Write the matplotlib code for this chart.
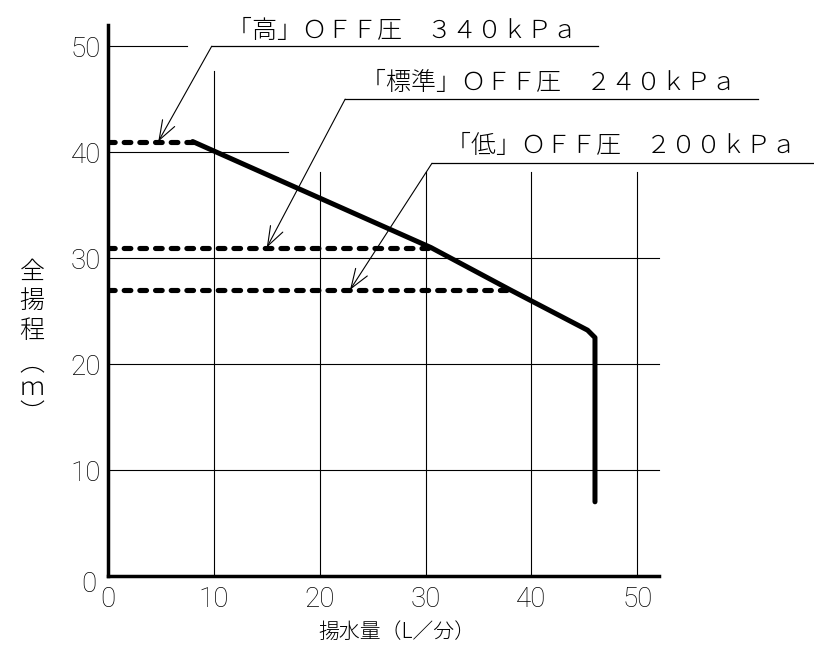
import matplotlib
matplotlib.use("Agg")
import matplotlib.pyplot as plt
from matplotlib.transforms import ScaledTranslation

plt.rcParams['font.family'] = ['Noto Sans CJK JP', 'DejaVu Sans']

# ---- data ----
flow = [8, 30.5, 38, 45.3, 46, 46]          # L/min
head = [41, 31, 27, 23.2, 22.5, 7]          # m
off_levels = [41, 31, 27]                    # OFF pressure head (m)
off_ends = [8, 30.5, 38]                     # where OFF line meets curve
off_labels = ["「高」ＯＦＦ圧　３４０ｋＰａ",
              "「標準」ＯＦＦ圧　２４０ｋＰａ",
              "「低」ＯＦＦ圧　２００ｋＰａ"]
xticks = [0, 10, 20, 30, 40, 50]
yticks = [0, 10, 20, 30, 40, 50]
xtick_labels = ["0", "10", "20", "30", "40", "50"]
ytick_labels = ["0", "10", "20", "30", "40", "50"]
xlabel = "揚水量（L／分）"
ylabel_main = "全\n揚\n程"
ylabel_unit = "︵\nｍ\n︶"

# grid extents (partial grid lines as in the drawing)
vgrid_x = [10, 20, 30, 40, 50]
vgrid_top = [47.7, 38.1, 38.1, 38.1, 38.1]
hgrid_y = [10, 20, 30, 40, 50]
hgrid_right = [52, 52, 52, 17, 7.5]

# annotation leader geometry (underline start, underline end, underline y, arrow tip x)
lead_start = [9.8, 22.4, 30.6]
lead_end = [46.3, 61.4, 66.6]
lead_y = [50.0, 45.0, 38.95]
tip_x = [4.75, 15.0, 22.86]
text_x = [27.8, 41.6, 48.5]
text_y = [50.75, 45.85, 39.9]

W, H = 814, 648
fig = plt.figure(figsize=(W / 100, H / 100), dpi=100)
ax = fig.add_axes([108 / W, 72 / H, 550.5 / W, 551 / H])
ax.set_xlim(0, 52)
ax.set_ylim(0, 52)

for s in ['top', 'right']:
    ax.spines[s].set_visible(False)
for s in ['left', 'bottom']:
    ax.spines[s].set_linewidth(2.5)
    ax.spines[s].set_color('black')
    ax.spines[s].set_zorder(5)

# grid
for x, t in zip(vgrid_x, vgrid_top):
    ax.plot([x, x], [0, t], color='black', lw=0.8, zorder=1, clip_on=False)
for y, r in zip(hgrid_y, hgrid_right):
    ax.plot([0, r], [y, y], color='black', lw=0.8, zorder=1, clip_on=False)

# OFF pressure dashed lines
for lvl, end in zip(off_levels, off_ends):
    ax.plot([0, end], [lvl, lvl], color='black', lw=3.7,
            linestyle=(0, (1.3, 1.75)), dash_capstyle='round', zorder=3)

# pump curve
ax.plot(flow, head, color='black', lw=3.6, solid_joinstyle='round',
        solid_capstyle='round', zorder=4)

# annotations
for lab, lvl, xs, xe, ly, tx, ttx, tty in zip(off_labels, off_levels, lead_start,
                                             lead_end, lead_y, tip_x, text_x, text_y):
    ax.plot([xs, xe], [ly, ly], color='black', lw=0.9, clip_on=False, zorder=2)
    ax.annotate('', xy=(tx, lvl), xytext=(xs, ly),
                arrowprops=dict(arrowstyle='->,head_length=1.4,head_width=0.5',
                                mutation_scale=10, lw=0.8, color='black',
                                shrinkA=0, shrinkB=0),
                annotation_clip=False, zorder=6)
    ax.text(ttx, tty, lab, ha='center', va='baseline', fontsize=18,
            fontweight='light', color='black', clip_on=False)

# ticks
ax.set_xticks(xticks)
ax.set_xticklabels(xtick_labels)
ax.set_yticks(yticks)
ax.set_yticklabels(ytick_labels)
ax.tick_params(axis='both', length=0)
ax.tick_params(axis='x', pad=7)
ax.tick_params(axis='y', pad=5)
for lab in ax.get_xticklabels() + ax.get_yticklabels():
    lab.set_fontfamily(['Roboto', 'DejaVu Sans'])
    lab.set_fontweight('light')
    lab.set_fontsize(20)
    lab.set_color('black')
# the y "0" label sits a bit lower-left in the drawing
y0 = ax.get_yticklabels()[0]
y0.set_transform(y0.get_transform() + ScaledTranslation(-3 / 72, -4 / 72, fig.dpi_scale_trans))

# axis labels
fig.text(397 / W, 1 - 631.5 / H, xlabel, ha='center', va='center', fontsize=15,
         fontweight='light')
fig.text(32 / W, 1 - 301 / H, ylabel_main, ha='center', va='center',
         fontsize=18, linespacing=1.15, fontweight='light')
fig.text(32 / W, 1 - 388 / H, ylabel_unit, ha='center', va='center',
         fontsize=18, linespacing=0.95, fontweight='light')

fig.savefig('out.png', dpi=100)
